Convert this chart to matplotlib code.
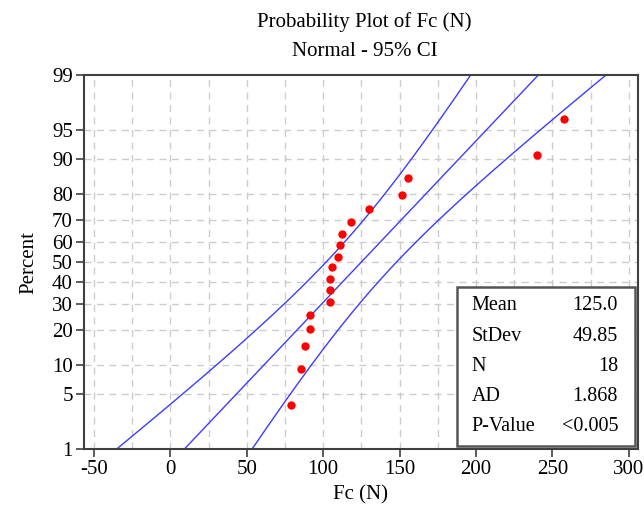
import numpy as np
import matplotlib
matplotlib.use("Agg")
import matplotlib.pyplot as plt
from matplotlib.patches import Rectangle
from statistics import NormalDist

# data
fc = [79.1, 85.6, 87.8, 91.7, 91.7, 104.6, 104.6, 104.4, 105.7,
      109.6, 110.9, 112.2, 118.5, 130.0, 151.7, 155.6, 239.8, 257.8]
percent = [3.8, 9.2, 14.7, 20.1, 25.5, 31.0, 36.4, 41.8, 47.3,
           52.7, 58.2, 63.6, 69.0, 74.5, 79.9, 85.3, 90.8, 96.2]
mean, sd, n = 125.0, 49.85, 18

stat_names = ["Mean", "StDev", "N", "AD", "P-Value"]
stat_values = ["125.0", "49.85", "18", "1.868", "<0.005"]

y_ticks = [1, 5, 10, 20, 30, 40, 50, 60, 70, 80, 90, 95, 99]
x_ticks = [-50, 0, 50, 100, 150, 200, 250, 300]

plt.rcParams["font.family"] = ["Liberation Serif", "DejaVu Serif"]
nd = NormalDist()

fig = plt.figure(figsize=(6.44, 5.09), dpi=100)
ax = fig.add_axes([0.1304, 0.1173, 0.8603, 0.7359])

# fitted line and 95% CI in probit space
z_lo, z_hi = nd.inv_cdf(0.01), nd.inv_cdf(0.99)
z = np.linspace(z_lo, z_hi, 200)
fit = mean + sd * z
half = 1.96 * sd * np.sqrt(1 / n + z ** 2 / (2 * n))
blue = "#3c3cff"
ax.plot(fit, z, color=blue, lw=1)
ax.plot(fit - half, z, color=blue, lw=1)
ax.plot(fit + half, z, color=blue, lw=1)

zp = [nd.inv_cdf(p / 100) for p in percent]
ax.plot(fc, zp, "o", color="#ff0000", ms=6, mec="none", zorder=5)

# grid
grid_kw = dict(color="#cccccc", lw=1, ls=(0, (5, 4)), zorder=0)
for gx in np.arange(-50, 301, 25):
    ax.axvline(gx, **grid_kw)
for p in y_ticks[1:-1]:
    ax.axhline(nd.inv_cdf(p / 100), **grid_kw)

ax.set_xlim(-56.5, 306)
ax.set_ylim(z_lo, z_hi)
ax.set_xticks(x_ticks)
ax.set_xticklabels([str(v) for v in x_ticks])
ax.set_yticks([nd.inv_cdf(p / 100) for p in y_ticks])
ax.set_yticklabels([str(p) for p in y_ticks])
ax.tick_params(labelsize=15, length=6, width=1.2, color="#404040", pad=2)
for s in ax.spines.values():
    s.set_color("#404040")
    s.set_linewidth(1.5)

ax.set_xlabel("Fc (N)", fontsize=15, labelpad=4)
ax.set_ylabel("Percent", fontsize=15, labelpad=10)

fig.text(0.565, 0.957, "Probability Plot of Fc (N)", ha="center", va="center", fontsize=15)
fig.text(0.567, 0.898, "Normal - 95% CI", ha="center", va="center", fontsize=15)

# stats box
ax.add_patch(Rectangle((0.673, 0.009), 0.3216, 0.424, transform=ax.transAxes,
                       facecolor="white", edgecolor="#555555", lw=1.8, zorder=6))
rows_y = [0.385, 0.300, 0.220, 0.142, 0.062]
for name, val, ry in zip(stat_names, stat_values, rows_y):
    ax.text(0.700, ry, name, transform=ax.transAxes, fontsize=14.5, va="center", ha="left", zorder=7)
    ax.text(0.964, ry, val, transform=ax.transAxes, fontsize=14.5, va="center", ha="right", zorder=7)

fig.savefig("out.png", dpi=100)
